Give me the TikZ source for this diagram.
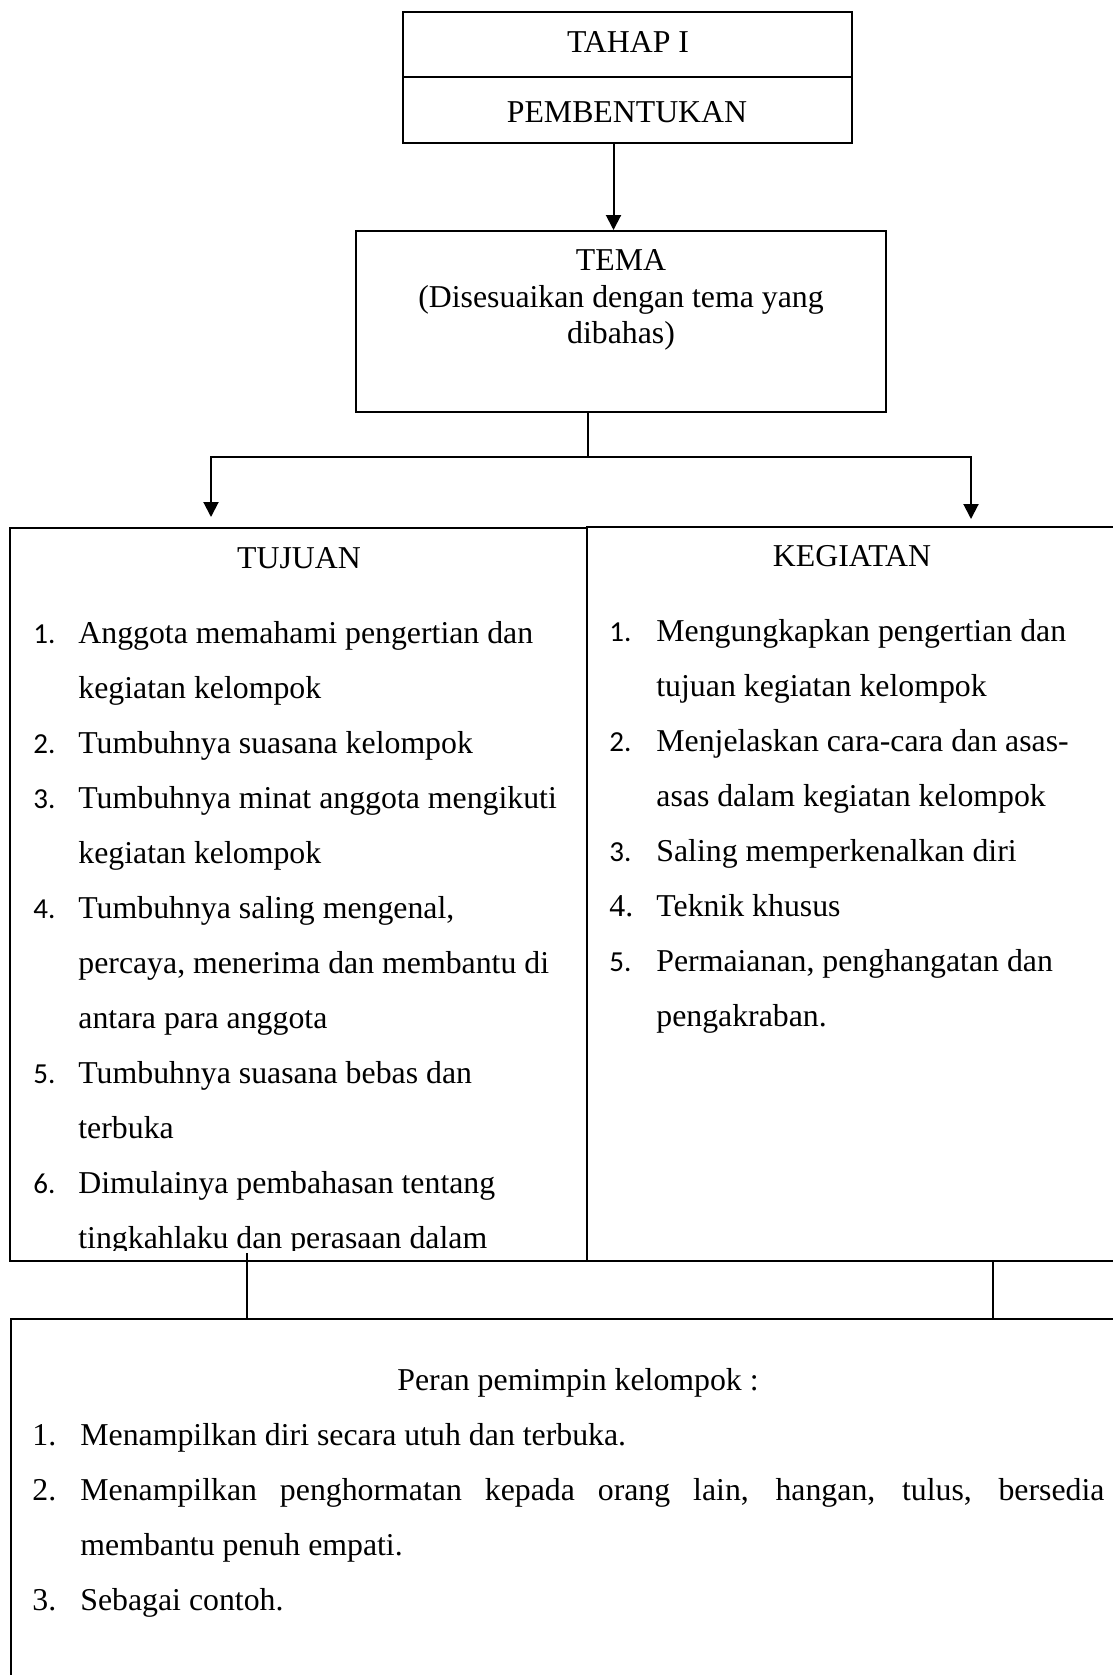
\documentclass[tikz,border=0pt]{standalone}
\usepackage{fontspec}
\setmainfont{Liberation Serif}
\newfontfamily\numfont{Carlito}
\usepackage{tikz}
\usetikzlibrary{arrows.meta,positioning,fit}

\newcommand{\nomor}[1]{{\numfont\fontsize{14.5}{27.5}\selectfont #1}}

\tikzset{
  kotak/.style={draw, line width=1pt, inner sep=0pt, rectangle},
  garis/.style={line width=1pt},
  panah/.style={line width=1pt, -{Triangle[length=7.5pt,width=7.5pt]}},
  teks/.style={inner sep=0pt, font=\fontsize{15.9}{27.5}\selectfont},
}

\begin{document}
\begin{tikzpicture}[x=0.5pt,y=-0.5pt]
            \useasboundingbox (0,0) rectangle (1113,1675);
            \fill[white] (0,0) rectangle (1113,1675);
            \clip (0,0) rectangle (1113,1675);
            % Tahap I box
            \node[kotak, fit={(403,12) (852,77)}] (tahapatas) {};
            \node[kotak, fit={(403,77) (852,143)}] (tahapbawah) {};
            \node[teks, anchor=base] (judul) at (628,53) {TAHAP I};
            \node[teks, anchor=base] (subjudul) at (627,123) {PEMBENTUKAN};
            % Tema box
            \node[kotak, fit={(356,231) (886,412)}] (tema) {};
            \node[teks, anchor=base] (temajudul) at (621,270) {TEMA};
            \node[teks, anchor=base] (temaket) at (621,307) {(Disesuaikan dengan tema yang};
            \node[teks, anchor=base] (temaket2) at (621,343) {dibahas)};
            \draw[panah] ([xshift=-7pt]tahapbawah.south) -- ([xshift=-7pt]tahapbawah.south |- tema.north);
            % Tujuan and Kegiatan boxes
            \node[kotak, fit={(10,528) (587,1261)}] (tujuan) {};
            \node[kotak, fit={(587,527) (1125,1261)}] (kegiatan) {};
            \node[teks, anchor=base] (tujuanjudul) at (299,568) {TUJUAN};
            \node[teks, anchor=base] (kegiatanjudul) at (852,566) {KEGIATAN};
            \begin{scope}
              \clip (10,528) rectangle (587,1250);
              \node[teks, anchor=base west] (tujuanisi) at (33,643) {\begin{tabular}[t]{@{}p{22.5pt}@{}l@{}}
                \nomor{1.} & Anggota memahami pengertian dan\\
                 & kegiatan kelompok\\
                \nomor{2.} & Tumbuhnya suasana kelompok\\
                \nomor{3.} & Tumbuhnya minat anggota mengikuti\\
                 & kegiatan kelompok\\
                \nomor{4.} & Tumbuhnya saling mengenal,\\
                 & percaya, menerima dan membantu di\\
                 & antara para anggota\\
                \nomor{5.} & Tumbuhnya suasana bebas dan\\
                 & terbuka\\
                \nomor{6.} & Dimulainya pembahasan tentang\\
                 & tingkahlaku dan perasaan dalam
              \end{tabular}};
            \end{scope}
            \node[teks, anchor=base west] (kegiatanisi) at (609,641) {\begin{tabular}[t]{@{}p{23.5pt}@{}l@{}}
              \nomor{1.} & Mengungkapkan pengertian dan\\
               & tujuan kegiatan kelompok\\
              \nomor{2.} & Menjelaskan cara-cara dan asas-\\
               & asas dalam kegiatan kelompok\\
              \nomor{3.} & Saling memperkenalkan diri\\
              4. & Teknik khusus\\
              \nomor{5.} & Permaianan, penghangatan dan\\
               & pengakraban.
            \end{tabular}};
            % Branch from Tema
            \coordinate (cabang) at (588,457);
            \coordinate (ujungkiri) at (211,517);
            \coordinate (ujungkanan) at (971,519);
            \draw[garis] (cabang |- tema.south) -- (cabang);
            \draw[panah] (cabang) -| (ujungkiri);
            \draw[panah] (cabang) -| (ujungkanan);
            % Peran pemimpin box
            \node[kotak, fit={(11,1319) (1125,1700)}] (peran) {};
            \coordinate (kaki1) at (247,1253);
            \coordinate (kaki2) at (993,1261);
            \draw[garis] (kaki1) -- (kaki1 |- peran.north);
            \draw[garis] (kaki2) -- (kaki2 |- peran.north);
            \node[teks, anchor=base] (perantitel) at (578,1390) {Peran pemimpin kelompok :};
            \node[teks, anchor=base west] (peranisi) at (32,1445) {\begin{tabular}[t]{@{}p{24pt}@{}l@{}}
              1. & Menampilkan diri secara utuh dan terbuka.\\
              2. & \makebox[512pt][s]{Menampilkan penghormatan kepada orang lain, hangan, tulus, bersedia}\\
               & membantu penuh empati.\\
              3. & Sebagai contoh.
            \end{tabular}};
          \end{tikzpicture}
\end{document}
